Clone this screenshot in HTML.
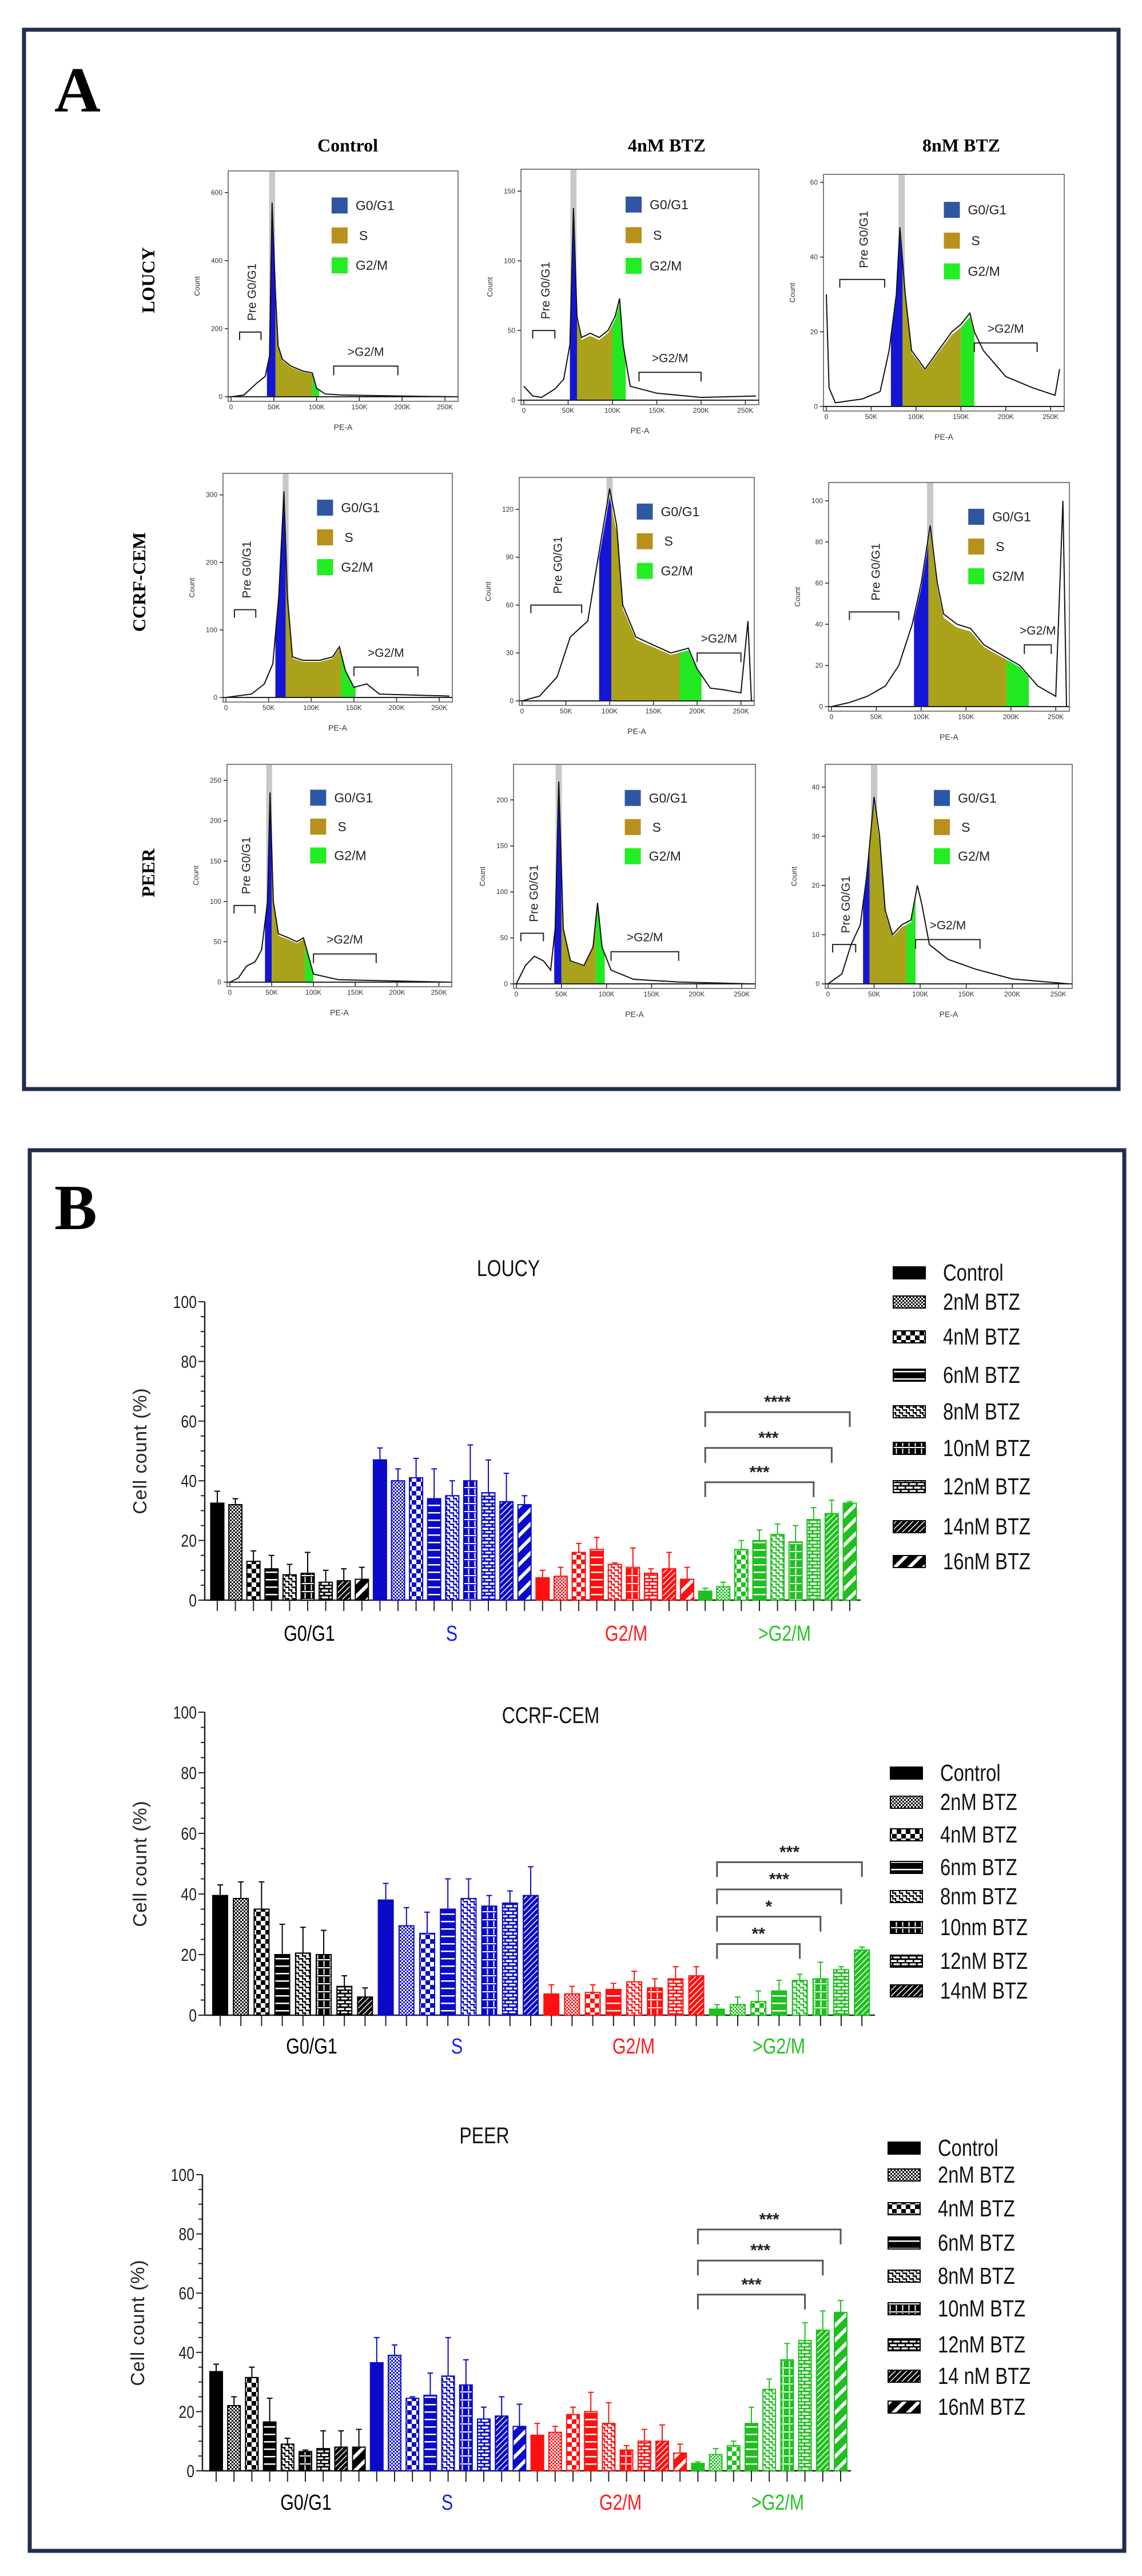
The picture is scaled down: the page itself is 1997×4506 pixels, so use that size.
<!DOCTYPE html>
<html><head><meta charset="utf-8">
<style>
html,body{margin:0;padding:0;background:#fff;}
svg{display:block;}
.ser{font-family:"Liberation Serif",serif;}
.san{font-family:"Liberation Sans",sans-serif;}
.nar{font-family:"Liberation Sans Narrow","Liberation Sans",sans-serif;}
</style></head>
<body>
<svg id="fig" width="1997" height="4506" viewBox="0 0 1997 4506" xmlns="http://www.w3.org/2000/svg">
<defs id="defs"></defs>
<rect x="0" y="0" width="1997" height="4506" fill="#fff"/>
<rect x="42" y="52" width="1914" height="1853" fill="none" stroke="#1f2d4e" stroke-width="7"/>
<rect x="52" y="2012" width="1914" height="2450" fill="none" stroke="#1f2d4e" stroke-width="7"/>
<text x="95" y="195" class="ser" font-size="112" font-weight="bold">A</text>
<text x="95" y="2150" class="ser" font-size="112" font-weight="bold">B</text>
<text x="608" y="265" class="ser" font-size="32" font-weight="bold" text-anchor="middle">Control</text>
<text x="1166" y="265" class="ser" font-size="32" font-weight="bold" text-anchor="middle">4nM BTZ</text>
<text x="1681" y="265" class="ser" font-size="32" font-weight="bold" text-anchor="middle">8nM BTZ</text>
<text transform="translate(270,490) rotate(-90)" class="ser" font-size="32" font-weight="bold" text-anchor="middle">LOUCY</text>
<text transform="translate(254,1018) rotate(-90)" class="ser" font-size="32" font-weight="bold" text-anchor="middle">CCRF-CEM</text>
<text transform="translate(270,1527) rotate(-90)" class="ser" font-size="32" font-weight="bold" text-anchor="middle">PEER</text>
<g id="panelA"></g>
<g id="panelB"></g>
</svg>
<script>
// ===== Panel A histogram data (x in K units, y in counts) =====
const histBoxes = [[399,299,402,403],[911,296,416,412],[1440,305,421,414],
  [390,828,401,400],[908,835,411,399],[1449,844,421,400],
  [397,1337,393,389],[898,1337,423,392],[1443,1337,432,392]];
const histYMax = [640,160,60,320,135,105,260,230,43];
const histYTicks = [[0,200,400,600],[0,50,100,150],[0,20,40,60],[0,100,200,300],[0,30,60,90,120],[0,20,40,60,80,100],[0,50,100,150,200,250],[0,50,100,150,200],[0,10,20,30,40]];
const histOutlines = [
 [[0,0],[15,5],[30,40],[40,60],[45,120],[48,570],[52,300],[55,150],[60,110],[70,90],[85,75],[95,70],[100,25],[110,8],[130,5],[200,2],[262,0]],
 [[0,10],[10,3],[20,2],[35,8],[45,15],[52,40],[56,138],[60,60],[65,45],[75,48],[85,45],[95,50],[103,60],[108,73],[112,40],[120,10],[150,5],[200,2],[262,3]],
 [[0,30],[3,5],[10,1],[40,2],[60,4],[70,15],[78,30],[82,48],[88,30],[95,15],[110,10],[125,15],[140,20],[150,22],[160,25],[165,20],[175,15],[200,8],[230,5],[255,3],[260,10]],
 [[0,0],[30,5],[45,20],[55,50],[62,150],[68,305],[72,150],[78,60],[90,55],[110,55],[125,60],[133,75],[140,40],[150,15],[165,20],[180,5],[262,2]],
 [[0,0],[20,3],[40,15],[55,40],[65,45],[75,50],[90,100],[100,133],[108,110],[115,60],[130,40],[150,35],[170,30],[190,33],[200,20],[215,8],[230,7],[250,5],[258,50],[262,0]],
 [[0,0],[20,2],[40,5],[60,10],[75,20],[90,40],[100,60],[110,88],[118,60],[125,45],[140,40],[155,38],[170,30],[190,25],[210,20],[230,10],[250,5],[258,100],[262,0]],
 [[0,0],[10,5],[20,20],[30,25],[38,40],[45,100],[48,235],[52,100],[58,60],[70,55],[80,50],[88,55],[92,40],[100,10],[130,3],[262,0]],
 [[0,0],[10,20],[20,30],[30,25],[38,15],[43,60],[47,220],[52,60],[60,25],[75,20],[85,40],[90,88],[95,40],[105,15],[130,5],[180,2],[262,0]],
 [[0,0],[15,2],[25,8],[35,12],[42,22],[50,38],[56,30],[62,15],[70,10],[80,12],[90,13],[97,20],[102,16],[110,8],[130,5],[160,3],[200,1],[262,0]]
];
const histPhases = [[42,52,95,103],[52,60,100,115],[72,85,150,165],[58,70,135,152],[88,102,180,205],[92,108,195,220],[42,50,90,100],[42,50,88,98],[38,45,85,95]];
const histGate = [48,56,84,70,100,110,47,47,50];
const histPre = [[10,35,190],[10,35,50],[15,65,34],[10,35,130],[10,68,60],[20,75,46],[5,30,95],[5,30,55],[5,30,8]];
const histG2 = [[120,195,90],[130,200,20],[165,235,17],[150,225,45],[200,250,30],[215,245,30],[100,175,35],[105,180,35],[95,165,9]];
const histLegendX = [0.45,0.44,0.5,0.41,0.5,0.58,0.37,0.46,0.44];
const phaseNames = ['G0/G1','S','G2/M'];

// ===== Panel B data =====
const categories = ['G0/G1','S','G2/M','>G2/M'];
const loucyLegend = ['Control','2nM BTZ','4nM BTZ','6nM BTZ','8nM BTZ','10nM BTZ','12nM BTZ','14nM BTZ','16nM BTZ'];
const loucyValues = [32.5,32,13,10.5,8.5,9,6,6.5,7, 47,40,41,34,35,40,36,33,32, 7.5,8,16,17,12,11,9,10.5,7, 3,4.5,17,20,22,19.5,27,29,32.5];
const loucyUpper  = [36.5,34,16.5,15,12,16,10,10.5,11, 51,44,47.5,44,40,52,47,42.5,35, 10,11,19,21,12.5,17.5,10.5,16,11, 4,6,20,23.5,25.5,25,31,33.5,33];
const loucySigTo = [33,34,35];
const loucySigY = [39.5,51,63];
const loucySigLabel = ['***','***','****'];

const ccrfLegend = ['Control','2nM BTZ','4nM BTZ','6nm BTZ','8nm BTZ','10nm BTZ','12nM BTZ','14nM BTZ'];
const ccrfValues = [39.5,38.5,35,20,20.5,20,9.5,6, 38,29.5,27,35,38.5,36,37,39.5, 7,7,7.5,8.5,11,9,12,13, 2,3.5,4.5,8,11.5,12,15,21.5];
const ccrfUpper  = [43,44,44,30,29,28,13,9, 43.5,35.5,34,45,45,39.5,41,49, 10,9.5,10,10.5,14.5,12,16,16, 3.5,6,8,11.5,13.5,17.5,16,22.5];
const ccrfSigTo = [28,29,30,31];
const ccrfSigY = [23.5,32.5,41.5,50.5];
const ccrfSigLabel = ['**','*','***','***'];

const peerLegend = ['Control','2nM BTZ','4nM BTZ','6nM BTZ','8nM BTZ','10nM BTZ','12nM BTZ','14 nM BTZ','16nM BTZ'];
const peerValues = [33.5,22,31.5,16.5,9,6.5,7.5,8,8, 36.5,39,24.5,25.5,32,29,17.5,18.5,15, 12,13,19,20,16,7,10,10,6, 2.5,5.5,8.5,16,27.5,37.5,44,47.5,53.5];
const peerUpper  = [36,25,35,24.5,11,7,13.5,13.5,14, 45,42.5,25,33,45,37.5,21.5,25,22.5, 16,15,21.5,26.5,23,8.5,14,15.5,9, 3,7.5,10,21.5,31,43,50,54,57.5];
const peerSigTo = [33,34,35];
const peerSigY = [59.5,71,81.5];
const peerSigLabel = ['***','***','***'];

const yTicks = [0,20,40,60,80,100];

const NS='http://www.w3.org/2000/svg';
function mk(tag, attrs, parent){const e=document.createElementNS(NS,tag);for(const k in attrs)e.setAttribute(k,attrs[k]);if(parent)parent.appendChild(e);return e;}
// condensed text (narrow look)
function ntext(parent,x,y,size,anchor,fill,content){
  const t=mk('text',{transform:'translate('+x+','+y+') scale(0.8,1)',x:0,y:0,'font-size':size,'text-anchor':anchor,fill:fill,class:'san'},parent);
  t.textContent=content;return t;
}

// ===== patterns =====
const defs=document.getElementById('defs');
const colorMap={k:'#000000',b:'#0a0ac8',r:'#ff1010',g:'#1fbf1f'};
for(const ck in colorMap){
  const c=colorMap[ck];
  let p=mk('pattern',{id:'p1'+ck,width:6,height:6,patternUnits:'userSpaceOnUse'},defs);
  mk('rect',{width:6,height:6,fill:'#fff'},p);mk('rect',{width:3,height:3,fill:c},p);mk('rect',{x:3,y:3,width:3,height:3,fill:c},p);
  p=mk('pattern',{id:'p2'+ck,width:16,height:16,patternUnits:'userSpaceOnUse'},defs);
  mk('rect',{width:16,height:16,fill:'#fff'},p);mk('rect',{width:8,height:8,fill:c},p);mk('rect',{x:8,y:8,width:8,height:8,fill:c},p);
  p=mk('pattern',{id:'p3'+ck,width:12,height:13,patternUnits:'userSpaceOnUse'},defs);
  mk('rect',{width:12,height:13,fill:c},p);mk('rect',{y:6,width:12,height:2.5,fill:'#fff'},p);
  p=mk('pattern',{id:'p4'+ck,width:12,height:10,patternUnits:'userSpaceOnUse'},defs);
  mk('rect',{width:12,height:10,fill:'#fff'},p);mk('path',{d:'M0 1.5h7M6 6.5h7M6 0v5M1 5v5',stroke:c,'stroke-width':2.5,fill:'none'},p);
  p=mk('pattern',{id:'p5'+ck,width:11,height:14,patternUnits:'userSpaceOnUse'},defs);
  mk('rect',{width:11,height:14,fill:c},p);mk('rect',{x:4.5,y:0,width:2,height:10,fill:'#fff'},p);mk('rect',{x:0,y:11,width:11,height:2,fill:'#fff'},p);
  p=mk('pattern',{id:'p6'+ck,width:14,height:12,patternUnits:'userSpaceOnUse'},defs);
  mk('rect',{width:14,height:12,fill:'#fff'},p);mk('path',{d:'M0 1h14M0 7h14M7 1v6M1 7v5',stroke:c,'stroke-width':3,fill:'none'},p);
  p=mk('pattern',{id:'p7'+ck,width:7,height:7,patternUnits:'userSpaceOnUse',patternTransform:'rotate(45)'},defs);
  mk('rect',{width:7,height:7,fill:c},p);mk('rect',{x:0,width:1.5,height:7,fill:'#fff'},p);
  p=mk('pattern',{id:'p8'+ck,width:18,height:18,patternUnits:'userSpaceOnUse',patternTransform:'rotate(45)'},defs);
  mk('rect',{width:18,height:18,fill:c},p);mk('rect',{x:0,width:6,height:18,fill:'#fff'},p);
}
function fillFor(ck,t){return t===0?colorMap[ck]:'url(#p'+t+ck+')';}

// ===== Panel A =====
const pa=document.getElementById('panelA');
function interp(pts,x){for(let i=0;i<pts.length-1;i++){const a=pts[i],b=pts[i+1];if(x>=a[0]&&x<=b[0]){const t=(x-a[0])/(b[0]-a[0]||1);return a[1]+t*(b[1]-a[1]);}}return 0;}
histBoxes.forEach((bx,i)=>{
  const [L,T,W,H]=bx;const g=mk('g',{},pa);
  
  
  const x0=L+5, xk=(W-10)/262, yb=T+H-8, yh=(H-22)/histYMax[i];
  const xs=k=>x0+k*xk, ys=c=>yb-c*yh;
  mk('rect',{x:L,y:T,width:W,height:H,fill:'#fff',stroke:'#555','stroke-width':1.5},g);
  mk('rect',{x:xs(histGate[i]-3.5),y:T+1,width:7*xk,height:H-9,fill:'#c8c8c8'},g);
  const pts=histOutlines[i];const ph=histPhases[i];
  const cols=['#1515d5','#a9a21a','#22e822'];
  for(let r=0;r<3;r++){
    const a=ph[r],b=ph[r+1];let d='M'+xs(a)+' '+yb;
    for(let x=a;x<=b;x+=0.5){d+=' L'+xs(x).toFixed(1)+' '+ys(interp(pts,x)*0.96).toFixed(1);}
    d+=' L'+xs(b)+' '+yb+'Z';
    const pe=mk('path',{d:d,fill:cols[r]},g);
    
    
  }
  let d='';pts.forEach((p,j)=>{d+=(j?' L':'M')+xs(p[0]).toFixed(1)+' '+ys(p[1]).toFixed(1);});
  const ol=mk('path',{d:d,fill:'none',stroke:'#111','stroke-width':2},g);
  
  
  mk('line',{x1:L,y1:yb,x2:L+W,y2:yb,stroke:'#222','stroke-width':2},g);
  [0,50,100,150,200,250].forEach(k=>{
    mk('line',{x1:xs(k),y1:yb,x2:xs(k),y2:yb+7,stroke:'#222','stroke-width':1.5},g);
    const t=mk('text',{x:xs(k),y:T+H+14,'font-size':12,'text-anchor':'middle',fill:'#333',class:'san'},g);t.textContent=k?k+'K':'0';
  });
  histYTicks[i].forEach(v=>{
    mk('line',{x1:L-6,y1:ys(v),x2:L,y2:ys(v),stroke:'#222','stroke-width':1.5},g);
    const t=mk('text',{x:L-10,y:ys(v)+4,'font-size':12,'text-anchor':'end',fill:'#333',class:'san'},g);t.textContent=v;
  });
  const ya=mk('text',{transform:'translate('+(L-50)+','+(T+H/2)+') rotate(-90)','font-size':13,'text-anchor':'middle',fill:'#333',class:'san'},g);ya.textContent='Count';
  const xa=mk('text',{x:L+W/2,y:T+H+50,'font-size':14,'text-anchor':'middle',fill:'#333',class:'san'},g);xa.textContent='PE-A';
  const pr=histPre[i];
  mk('path',{d:'M'+xs(pr[0])+' '+(ys(pr[2])+14)+' V'+ys(pr[2])+' H'+xs(pr[1])+' V'+(ys(pr[2])+14),fill:'none',stroke:'#222','stroke-width':2},g);
  const pl=mk('text',{transform:'translate('+(xs((pr[0]+pr[1])/2)+10)+','+(ys(pr[2])-70)+') rotate(-90)','font-size':21,'text-anchor':'middle',fill:'#222',class:'san'},g);pl.textContent='Pre G0/G1';
  const g2=histG2[i];
  mk('path',{d:'M'+xs(g2[0])+' '+(ys(g2[2])+16)+' V'+ys(g2[2])+' H'+xs(g2[1])+' V'+(ys(g2[2])+16),fill:'none',stroke:'#222','stroke-width':2},g);
  const gl=mk('text',{x:xs((g2[0]+g2[1])/2),y:ys(g2[2])-18,'font-size':21,'text-anchor':'middle',fill:'#222',class:'san'},g);gl.textContent='>G2/M';
  const lx=L+histLegendX[i]*W;const sw=['#2f56a2','#b8901c','#22ee22'];
  [0.15,0.28,0.41].forEach((f,r)=>{
    const cy=T+f*H;
    mk('rect',{x:lx,y:cy-14,width:28,height:28,fill:sw[r]},g);
    const t=mk('text',{x:lx+(r===1?48:42),y:cy+8,'font-size':23,fill:'#222',class:'san'},g);t.textContent=phaseNames[r];
  });
});

// ===== Panel B charts =====
const pb=document.getElementById('panelB');
const catColors=['#000','#1a1aff','#ff1a1a','#22c322'];
const barColorKeys=['k','b','r','g'];
function drawChart(cfg){
  const g=mk('g',{},pb);
  
  
  const ys=v=>cfg.y0-(cfg.y0-cfg.y100)*v/100;
  const xb=i=>cfg.first+i*cfg.step;
  const k=cfg.legend.length;
  const n=cfg.values.length;
  const tt=ntext(g,cfg.titleX,cfg.titleY,40,'middle','#111',cfg.title);
  
  
  mk('line',{x1:cfg.axisX,y1:cfg.y100,x2:cfg.axisX,y2:cfg.y0,stroke:'#222','stroke-width':2.5},g);
  for(let v=0;v<=100;v+=5){const maj=v%20===0;mk('line',{x1:cfg.axisX-(maj?11:7),y1:ys(v),x2:cfg.axisX,y2:ys(v),stroke:'#222','stroke-width':2},g);}
  yTicks.forEach(v=>{ntext(g,cfg.axisX-14,ys(v)+11,31,'end','#222',String(v));});
  const yl=mk('text',{transform:'translate('+(cfg.axisX-102)+','+((cfg.y0+cfg.y100)/2)+') rotate(-90)','font-size':33,'text-anchor':'middle',class:'san',fill:'#222','letter-spacing':'1'},g);yl.textContent='Cell count (%)';
  
  
  mk('line',{x1:cfg.axisX,y1:cfg.y0,x2:cfg.axisEnd,y2:cfg.y0,stroke:'#222','stroke-width':2.5},g);
  for(let i=0;i<n;i++){
    const grp=Math.floor(i/k), s=i%k;const ck=barColorKeys[grp];const c=colorMap[ck];
    const x=xb(i), v=cfg.values[i], up=cfg.upper[i];
    mk('line',{x1:x,y1:ys(up),x2:x,y2:ys(v),stroke:c,'stroke-width':2},g);
    mk('line',{x1:x-5,y1:ys(up),x2:x+5,y2:ys(up),stroke:c,'stroke-width':2},g);
    const r=mk('rect',{x:x-cfg.bw/2,y:ys(v),width:cfg.bw,height:cfg.y0-ys(v),fill:fillFor(ck,s),stroke:c,'stroke-width':2},g);
    
    
    mk('line',{x1:x,y1:cfg.y0,x2:x,y2:cfg.y0+19,stroke:'#222','stroke-width':2},g);
  }
  categories.forEach((c,j)=>{
    const t=ntext(g,cfg.catX[j],cfg.catY,38,'middle',catColors[j],c);
    
    
  });
  const from=3*k;
  cfg.sigTo.forEach((to,j)=>{
    const y=ys(cfg.sigY[j]);
    mk('path',{d:'M'+xb(from)+' '+(y+26)+' V'+y+' H'+xb(to)+' V'+(y+26),fill:'none',stroke:'#555','stroke-width':3},g);
    const t=mk('text',{x:(xb(from)+xb(to))/2,y:y-8,'font-size':30,'font-weight':'bold','text-anchor':'middle',class:'san',fill:'#222'},g);t.textContent=cfg.sigLabel[j];
    
    
  });
  cfg.legend.forEach((lab,s)=>{
    const y=cfg.legY[s];
    const sr=mk('rect',{x:cfg.legX,y:y-10,width:56,height:21,fill:fillFor('k',s),stroke:'#000','stroke-width':2},g);
    
    
    const t=ntext(g,cfg.legX+87,y+14,41,'start','#111',lab);
    
    
  });
}
drawChart({name:'loucy-chart',title:'LOUCY',titleX:889,titleY:2232,values:loucyValues,upper:loucyUpper,legend:loucyLegend,
  sigTo:loucySigTo,sigY:loucySigY,sigLabel:loucySigLabel,axisX:358,axisEnd:1505,y0:2799,y100:2277,first:380,step:31.6,bw:23,
  catX:[541,790,1095,1372],catY:2870,legX:1562,legY:[2226,2277,2338,2405,2469,2533,2600,2670,2731]});
drawChart({name:'ccrf-cem-chart',title:'CCRF-CEM',titleX:963,titleY:3014,values:ccrfValues,upper:ccrfUpper,legend:ccrfLegend,
  sigTo:ccrfSigTo,sigY:ccrfSigY,sigLabel:ccrfSigLabel,axisX:358,axisEnd:1530,y0:3525,y100:2995,first:385,step:36.2,bw:26,
  catX:[545,799,1108,1362],catY:3592,legX:1557,legY:[3101,3152,3209,3266,3317,3371,3430,3482]});
drawChart({name:'peer-chart',title:'PEER',titleX:847,titleY:3749,values:peerValues,upper:peerUpper,legend:peerLegend,
  sigTo:peerSigTo,sigY:peerSigY,sigLabel:peerSigLabel,axisX:354,axisEnd:1488,y0:4322,y100:3804,first:378,step:31.2,bw:22,
  catX:[535,782,1085,1360],catY:4390,legX:1553,legY:[3757,3804,3863,3923,3981,4038,4101,4156,4210]});
</script>
</body></html>
